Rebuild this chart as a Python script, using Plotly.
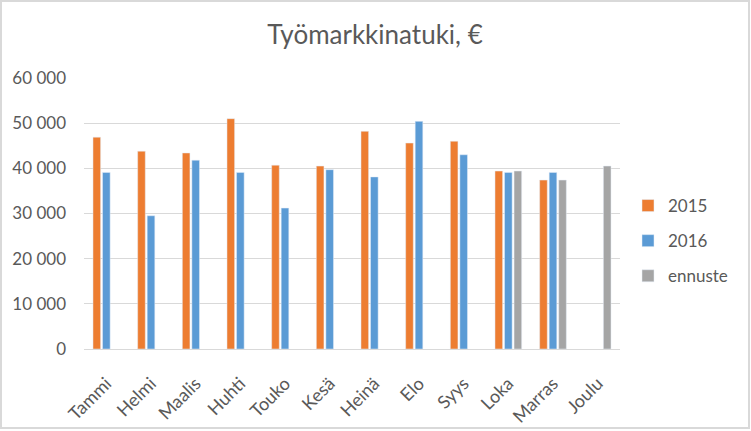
import plotly.graph_objects as go

months = ["Tammi", "Helmi", "Maalis", "Huhti", "Touko", "Kesä", "Heinä", "Elo", "Syys", "Loka", "Marras", "Joulu"]
v2015 = [46900, 43800, 43400, 51000, 40700, 40500, 48200, 45600, 46000, 39400, 37400, None]
v2016 = [39100, 29500, 41800, 39100, 31200, 39700, 38100, 50400, 43000, 39100, 39100, None]
ennuste = [None, None, None, None, None, None, None, None, None, 39400, 37400, 40500]
yticks = [0, 10000, 20000, 30000, 40000, 50000, 60000]

FONT = "Lato, Carlito, Calibri, sans-serif"
TXT = "#595959"

W, H = 751, 431
L, R, T, B = 84, 131, 78, 82
pw, ph = W - L - R, H - T - B

fig = go.Figure()
fig.add_trace(go.Bar(x=months, y=v2015, name="2015", marker_color="#ED7D31", legendgroup="a"))
fig.add_trace(go.Bar(x=months, y=v2016, name="2016", marker_color="#5B9BD5", legendgroup="b"))
fig.add_trace(go.Bar(x=months, y=ennuste, name="ennuste", marker_color="#A5A5A5", legendgroup="c"))

def px_x(p):
    return (p - L) / pw

def px_y(p):
    return (H - B - p) / ph

fig.update_layout(
    width=W, height=H,
    margin=dict(l=L, r=R, t=T, b=B, pad=0, autoexpand=False),
    paper_bgcolor="white", plot_bgcolor="white",
    font=dict(family=FONT, color=TXT, size=14),
    separators=", ",
    title=dict(text="Työmarkkinatuki, €", x=375 / W, xref="container", xanchor="center",
               y=1 - 35 / H, yref="container", yanchor="middle",
               font=dict(size=26, color=TXT, family=FONT)),
    barmode="group", bargap=0.36, bargroupgap=0.2,
    showlegend=True,
    legend=dict(x=628 / W, xref="container", xanchor="left",
                y=1 - 188 / H, yref="container", yanchor="top",
                font=dict(size=17, color=TXT), tracegroupgap=10,
                itemwidth=30, bgcolor="rgba(0,0,0,0)"),
    xaxis=dict(tickangle=-45, showgrid=False, showline=True, linecolor="#d9d9d9", linewidth=1,
               ticks="", ticklabelstandoff=16, tickfont=dict(size=18, color=TXT), fixedrange=True),
    yaxis=dict(range=[0, 60000], tickvals=yticks, tickformat=",d", showgrid=True,
               gridcolor="#d9d9d9", gridwidth=1, zeroline=False, showline=False,
               ticks="", ticklabelstandoff=17, tickfont=dict(size=17, color=TXT), fixedrange=True),
    shapes=[dict(type="rect", xref="paper", yref="paper",
                 x0=px_x(1), x1=px_x(749), y0=px_y(428), y1=px_y(1),
                 line=dict(color="#d9d9d9", width=2), fillcolor="rgba(0,0,0,0)", layer="below")],
)

fig.write_html("out.html")
